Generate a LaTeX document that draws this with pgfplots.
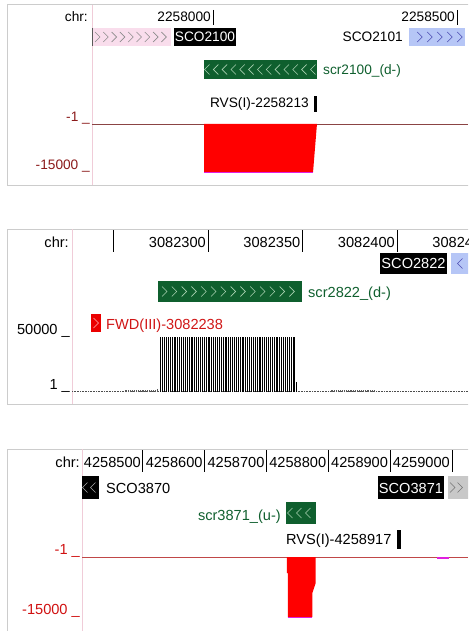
\documentclass[border=0pt]{standalone}
\usepackage{pgfplots}
\pgfplotsset{compat=1.18}
\usepackage{fontspec}
\setmainfont{Liberation Sans}

\definecolor{frame}{HTML}{CCCCCC}
\definecolor{pinkline}{HTML}{F0CCD8}
\definecolor{genepink}{HTML}{F9DDEC}
\definecolor{geneblue}{HTML}{B6C6F6}
\definecolor{scrgreen}{HTML}{0F5F2E}
\definecolor{chevgreen}{HTML}{A8D0B0}
\definecolor{darkred}{HTML}{8B1A1A}
\definecolor{lineone}{HTML}{8B4444}
\definecolor{brightred}{HTML}{D01010}
\definecolor{linethree}{HTML}{C04848}
\definecolor{fwdred}{HTML}{D01515}
\definecolor{magbar}{HTML}{E020E0}
\definecolor{genegrey}{HTML}{C8C8C8}

\newcommand\fa{\fontsize{13.7}{15}\selectfont}
\newcommand\fb{\fontsize{14.6}{16}\selectfont}

% chevrons inside gene boxes: signed half width, first centre, step, count, centre y, colour (pixels)
\newcommand\chevs[6]{%
  \foreach \k in {1,...,#4}{%
    \pgfmathsetmacro\cx{#2+(\k-1)*#3}%
    \pgfmathsetmacro\xa{\cx-(#1)}%
    \pgfmathsetmacro\xb{\cx+(#1)}%
    \draw[#6, line width=0.6pt] (\xa pt,-#5pt+5pt) -- (\xb pt,-#5pt) -- (\xa pt,-#5pt-5pt);}}

\pgfplotsset{
  track/.style={scale only axis, hide axis, clip=false, anchor=south west},
}
\tikzset{lab/.style={anchor=base east, inner sep=0pt, xshift=-2pt}}

\begin{document}
\begin{tikzpicture}
\path[use as bounding box, clip] (0,0) rectangle (468pt,-631pt);

% panel frames
\draw[frame, line width=1pt] (470pt,-5pt) -- (7pt,-5pt) -- (7pt,-185pt) -- (470pt,-185pt);
\draw[frame, line width=1pt] (470pt,-229pt) -- (7pt,-229pt) -- (7pt,-404pt) -- (470pt,-404pt);
\draw[frame, line width=1pt] (470pt,-449pt) -- (7pt,-449pt) -- (7pt,-640pt);
\draw[pinkline, line width=0.6pt] (92pt,-5pt) -- (92pt,-185pt);
\draw[pinkline, line width=0.6pt] (72pt,-229pt) -- (72pt,-404pt);
\draw[pinkline, line width=0.6pt] (82pt,-449pt) -- (82pt,-640pt);

\node[anchor=base east, inner sep=0pt] at (88pt,-21.7pt) {\fa chr:};
\node[anchor=base east, inner sep=0pt] at (69pt,-247pt) {\fb chr:};
\node[anchor=base east, inner sep=0pt] at (80pt,-467pt) {\fb chr:};

% ---------------- panel 1 : 2258000 ----------------
\begin{axis}[track, at={(92pt,-124pt)}, width=376pt, height=119pt,
  xmin=-247.95, xmax=522.5, ymin=-124, ymax=-5]
  \draw[black, line width=1pt] (0,-10) -- (0,-25);
  \node[lab] at (0,-21.7) {\fa 2258000};
  \draw[black, line width=1pt] (500,-10) -- (500,-25);
  \node[lab] at (500,-21.7) {\fa 2258500};
  \fill[genepink] (-247.95,-28) rectangle (-86.1,-46);
  \draw[gray!70!black, line width=0.8pt] (-247.95,-28) -- (-247.95,-46);
  \fill[black] (-79.9,-28) rectangle (47.1,-46);
  \node[white, anchor=base, inner sep=0pt] at (-16.4,-41.8) {\fa SCO2100};
  \fill[geneblue] (401.6,-28) rectangle (516.4,-46);
  \node[anchor=base east, inner sep=0pt] at (389.3,-41.8) {\fa SCO2101};
  \fill[scrgreen] (-18.4,-60) rectangle (213.1,-79);
  \node[scrgreen, anchor=base west, inner sep=0pt] at (225.4,-74.5) {\fa scr2100\_(d-)};
  \node[anchor=base east, inner sep=0pt] at (196.7,-108) {\fa RVS(I)-2258213};
  \fill[black] (207,-96) rectangle (213,-112);
\end{axis}
\begin{axis}[track, at={(92pt,-172pt)}, width=376pt, height=48pt,
  xmin=-247.95, xmax=522.5, ymin=-15000, ymax=-1]
  \addplot[lineone, line width=0.8pt] coordinates {(-247.95,-1) (522.5,-1)};
  \addplot[draw=none, fill=red] coordinates {(-18,-1) (-18,-15000) (205,-15000) (213,-1)};
  \addplot[magbar, line width=0.8pt] coordinates {(-18,-15000) (205,-15000)};
  \node[lab, darkred, yshift=2.3pt] at (-247.95,-1) {\fa -1 \_};
  \node[lab, darkred, yshift=2.3pt] at (-247.95,-15000) {\fa -15000 \_};
\end{axis}
\chevs{2.5}{97.5}{8.3}{9}{37}{black!45}
\chevs{2.5}{419.7}{10}{5}{37}{blue!40!gray}
\chevs{-2.5}{207}{8.83}{13}{69.5}{chevgreen}

% ---------------- panel 2 : 3082300 ----------------
\begin{axis}[track, at={(72pt,-335pt)}, width=396pt, height=106pt,
  xmin=-71.96, xmax=137.57, ymin=-335, ymax=-229]
  \draw[black, line width=1pt] (-50,-230) -- (-50,-252);
  \draw[black, line width=1pt] (0,-230) -- (0,-252);
  \node[lab] at (0,-247) {\fb 3082300};
  \draw[black, line width=1pt] (50,-230) -- (50,-252);
  \node[lab] at (50,-247) {\fb 3082350};
  \draw[black, line width=1pt] (100,-230) -- (100,-252);
  \node[lab] at (100,-247) {\fb 3082400};
  \node[lab] at (150,-247) {\fb 3082450};
  \fill[black] (91.0,-253) rectangle (126.5,-274);
  \node[white, anchor=base, inner sep=0pt] at (108.75,-268.5) {\fb SCO2822};
  \fill[geneblue] (128.6,-253) rectangle (140,-274);
  \fill[scrgreen] (-26.5,-281) rectangle (49.7,-302);
  \node[scrgreen, anchor=base west, inner sep=0pt] at (52.9,-297) {\fb scr2822\_(d-)};
  \fill[red!92!black] (-61.9,-314) rectangle (-56.6,-332);
  \node[fwdred, anchor=base west, inner sep=0pt] at (-54.0,-329.3) {\fb FWD(III)-3082238};
\end{axis}
\begin{axis}[track, at={(72pt,-392pt)}, width=396pt, height=55pt,
  xmin=-71.96, xmax=137.57, ymin=1, ymax=50000]
  \addplot[densely dotted, black!70, line width=0.6pt] coordinates {(-71.96,300) (137.57,300)};
  \addplot[ycomb, black!65, line width=0.5pt] coordinates {
    (-44,2000) (-43,1800) (-42,2000) (-41,1800) (-40,2000) (-39,1900) (-38,2000) (-37,1800)
    (-36,2000) (-35,1900) (-34,2000) (-33,1800) (-32,2000) (-31,1900) (-30,2000) (-29,2200)
    (-28,2000) (-27,2400)
    (65,1800) (66,2000) (67,1800) (68,2000) (69,2200) (70,2000) (71,2200) (72,2000)
    (73,2200) (74,2000) (75,2200) (76,2000) (77,2200) (78,2000) (79,2000) (80,1800)
    (81,2000) (82,1800) (83,2000) (84,1800) (85,1800) (86,1600) (87,1600) (88,1500)};
  \addplot[ycomb, black, line width=0.9pt] coordinates {
    (-25,50000) (-24,50000) (-23,50000) (-22,50000) (-21,50000) (-20,50000) (-19,50000)
    (-18,50000) (-17,50000) (-16,50000) (-15,50000) (-14,50000) (-13,50000) (-12,50000)
    (-11,50000) (-10,50000) (-9,50000) (-8,50000) (-7,50000) (-6,50000) (-5,50000)
    (-4,50000) (-3,50000) (-2,50000) (-1,50000) (0,50000) (1,50000) (2,50000)
    (3,50000) (4,50000) (5,50000) (6,50000) (7,50000) (8,50000) (9,50000)
    (10,50000) (11,50000) (12,50000) (13,50000) (14,50000) (15,50000) (16,50000)
    (17,50000) (18,50000) (19,50000) (20,50000) (21,50000) (22,50000) (23,50000)
    (24,50000) (25,50000) (26,50000) (27,50000) (28,50000) (29,50000) (30,50000)
    (31,50000) (32,50000) (33,50000) (34,50000) (35,50000) (36,50000) (37,50000)
    (38,50000) (39,50000) (40,50000) (41,50000) (42,50000) (43,50000) (44,50000)
    (45,50000) (46,50000) (47,9000)};
  \node[lab, yshift=2.3pt] at (-71.96,50000) {\fb 50000 \_};
  \node[lab, yshift=2.3pt] at (-71.96,1) {\fb 1 \_};
\end{axis}
\chevs{-2.5}{460}{10}{1}{263.5}{blue!40!gray}
\chevs{2.5}{164.5}{9.8}{14}{291.5}{chevgreen}
\chevs{2.5}{96}{8}{1}{323}{red!30!white}

% ---------------- panel 3 : 4258500 ----------------
\begin{axis}[track, at={(82pt,-557pt)}, width=386pt, height=108pt,
  xmin=-98.7, xmax=525.9, ymin=-557, ymax=-449]
  \draw[black, line width=1pt] (0,-450) -- (0,-472);
  \node[lab] at (0,-467) {\fb 4258500};
  \draw[black, line width=1pt] (100,-450) -- (100,-472);
  \node[lab] at (100,-467) {\fb 4258600};
  \draw[black, line width=1pt] (200,-450) -- (200,-472);
  \node[lab] at (200,-467) {\fb 4258700};
  \draw[black, line width=1pt] (300,-450) -- (300,-472);
  \node[lab] at (300,-467) {\fb 4258800};
  \draw[black, line width=1pt] (400,-450) -- (400,-472);
  \node[lab] at (400,-467) {\fb 4258900};
  \draw[black, line width=1pt] (500,-450) -- (500,-472);
  \node[lab] at (500,-467) {\fb 4259000};
  \fill[black] (-98.7,-476) rectangle (-71.2,-499);
  \node[anchor=base west, inner sep=0pt] at (-59.9,-493) {\fb SCO3870};
  \fill[black] (380.3,-476) rectangle (487.1,-499);
  \node[white, anchor=base, inner sep=0pt] at (433.7,-493) {\fb SCO3871};
  \fill[genegrey] (493.5,-476) rectangle (530,-499);
  \fill[scrgreen] (231.4,-502) rectangle (279.9,-524);
  \node[scrgreen, anchor=base east, inner sep=0pt] at (223.3,-520) {\fb scr3871\_(u-)};
  \node[anchor=base west, inner sep=0pt] at (231.4,-544.5) {\fb RVS(I)-4258917};
  \fill[black] (411,-530) rectangle (417.5,-549);
\end{axis}
\begin{axis}[track, at={(82pt,-617pt)}, width=386pt, height=60pt,
  xmin=-98.7, xmax=525.9, ymin=-15000, ymax=-1]
  \addplot[linethree, line width=0.8pt] coordinates {(-98.7,-1) (525.9,-1)};
  \addplot[draw=none, fill=red] coordinates {(233,-1) (233,-4000) (234.5,-4000)
    (234.5,-15000) (274,-15000) (274,-9000) (279.4,-6500) (279.4,-1)};
  \addplot[magbar, line width=0.8pt] coordinates {(234.5,-15000) (274,-15000)};
  \addplot[draw=none, fill=magbar] coordinates {(475.7,-1) (475.7,-500) (495.1,-500) (495.1,-1)};
  \node[lab, brightred, yshift=2.3pt] at (-98.7,-1) {\fb -1 \_};
  \node[lab, brightred, yshift=2.3pt] at (-98.7,-15000) {\fb -15000 \_};
\end{axis}
\chevs{-2.5}{85}{8}{2}{487.5}{black!35}
\chevs{2.5}{452.5}{7.5}{2}{487.5}{black!55}
\chevs{-2.5}{290}{9}{3}{513}{chevgreen}
\end{tikzpicture}
\end{document}
